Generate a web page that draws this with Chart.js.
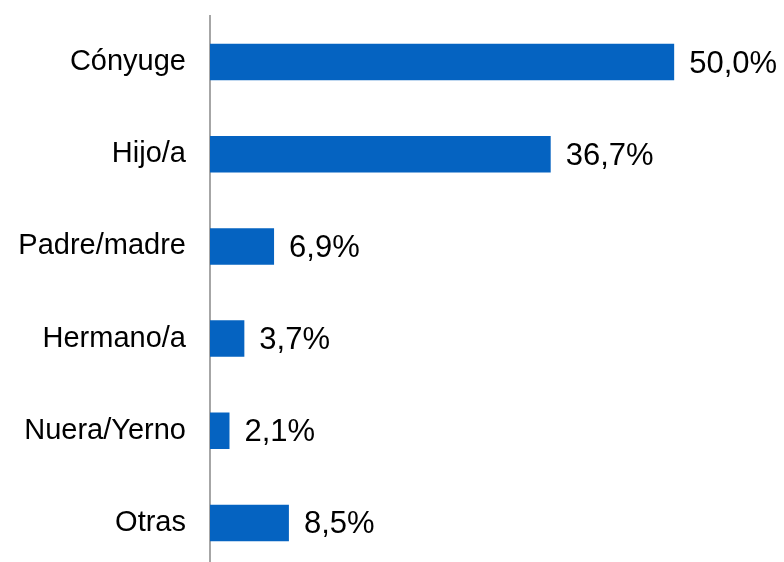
<!DOCTYPE html>
<html>
<head>
<meta charset="utf-8">
<script src="https://cdn.jsdelivr.net/npm/chart.js@4/dist/chart.umd.min.js"></script>
<style>
  html, body { margin: 0; padding: 0; background: #ffffff; overflow: hidden; }
  #wrap { width: 784px; height: 562px; overflow: hidden; }
  #box { width: 784px; height: 569px; position: relative; }
</style>
</head>
<body>
<div id="wrap"><div id="box"><canvas id="chart"></canvas></div></div>
<script>
// Parentesco con la persona de referencia (%)
const categories = ['Cónyuge', 'Hijo/a', 'Padre/madre', 'Hermano/a', 'Nuera/Yerno', 'Otras'];
const values = [50.0, 36.7, 6.9, 3.7, 2.1, 8.5];

const fontFamily = '"Liberation Sans", Arial, sans-serif';
const fmt = v => v.toFixed(1).replace('.', ',') + '%';

// Writes each bar's value just past its end
const valueLabels = {
  id: 'valueLabels',
  afterDatasetsDraw(chart) {
    const ctx = chart.ctx;
    const meta = chart.getDatasetMeta(0);
    ctx.save();
    ctx.font = '31px ' + fontFamily;
    ctx.fillStyle = '#000000';
    ctx.textAlign = 'left';
    ctx.textBaseline = 'middle';
    meta.data.forEach((bar, i) => {
      ctx.fillText(fmt(values[i]), bar.x + 15, bar.y + 2);
    });
    ctx.restore();
  }
};

new Chart(document.getElementById('chart'), {
  type: 'bar',
  data: {
    labels: categories,
    datasets: [{
      data: values,
      backgroundColor: '#0563C1',
      borderWidth: 0,
      categoryPercentage: 1.0,
      barPercentage: 0.396
    }]
  },
  options: {
    indexAxis: 'y',
    responsive: true,
    maintainAspectRatio: false,
    animation: false,
    layout: { padding: { top: 16, right: 17, bottom: 0, left: 0 } },
    plugins: { legend: { display: false }, tooltip: { enabled: false } },
    scales: {
      x: {
        display: false,
        min: 0,
        max: 60
      },
      y: {
        grid: { display: false, drawTicks: false },
        border: { display: true, color: '#a6a6a6', width: 2 },
        ticks: {
          color: '#000000',
          padding: 24,
          font: { family: fontFamily, size: 29 }
        },
        afterFit(scale) {
          scale.width = 210;
          scale.paddingTop = 0;
          scale.paddingBottom = 0;
        }
      }
    }
  },
  plugins: [valueLabels]
});
</script>
</body>
</html>
